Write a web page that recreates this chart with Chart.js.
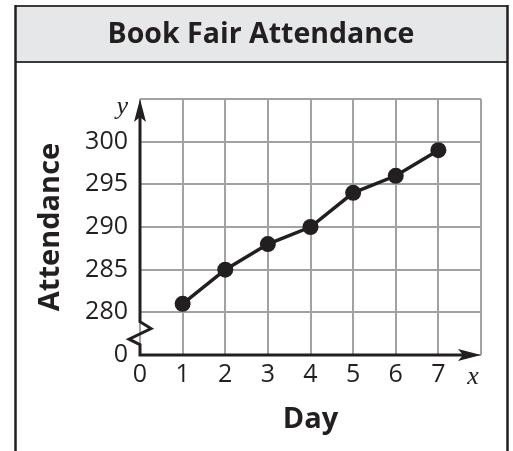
<!DOCTYPE html>
<html>
<head>
<meta charset="utf-8">
<title>Book Fair Attendance</title>
<script src="https://cdn.jsdelivr.net/npm/chart.js@4/dist/chart.umd.min.js"></script>
<style>
  html, body { margin: 0; padding: 0; background: #ffffff; }
  #wrap { position: relative; width: 513px; height: 451px; }
</style>
</head>
<body>
<div id="wrap"><canvas id="chart" width="513" height="451"></canvas></div>
<script>
// Attendance for each day of the book fair
const days = [1, 2, 3, 4, 5, 6, 7];
const attendance = [281, 285, 288, 290, 294, 296, 299];

// Axis ranges (the y axis is broken between 0 and 280)
const xRange = [0, 8];
const yRange = [275, 305];
const yBreakValue = 275;   // bottom gridline stands for 0
const yBreakZig = [278.9, 278.1, 276.85, 276.2];

const INK = '#231f20';
const GRID = '#a2a2a2';
const FONT = '"Open Sans", sans-serif';

// Frame and shaded heading band
const framePlugin = {
  id: 'frame',
  beforeDraw(chart) {
    const ctx = chart.ctx;
    ctx.save();
    ctx.fillStyle = '#ffffff';
    ctx.fillRect(0, 0, chart.width, chart.height);
    ctx.fillStyle = '#e6e7e8';
    ctx.fillRect(16, 6, 491, 56);
    ctx.strokeStyle = '#3a3a3a';
    ctx.lineWidth = 2;
    ctx.beginPath();
    ctx.moveTo(15, 6); ctx.lineTo(508, 6);
    ctx.moveTo(15, 62); ctx.lineTo(508, 62);
    ctx.stroke();
    ctx.strokeStyle = INK;
    ctx.lineWidth = 2.5;
    ctx.beginPath();
    ctx.moveTo(15.5, 5); ctx.lineTo(15.5, chart.height);
    ctx.moveTo(507.5, 5); ctx.lineTo(507.5, chart.height);
    ctx.stroke();
    ctx.restore();
  }
};

// Black axes with arrowheads and a zigzag break on the y axis
const axesPlugin = {
  id: 'arrowAxes',
  beforeDatasetsDraw(chart) {
    const {ctx, scales: {x, y}} = chart;
    const x0 = x.getPixelForValue(xRange[0]);
    const xEnd = x.getPixelForValue(xRange[1]);
    const yBottom = y.getPixelForValue(yRange[0]);
    const yTop = y.getPixelForValue(yRange[1]);
    const z = yBreakZig.map(v => y.getPixelForValue(v));
    ctx.save();
    ctx.strokeStyle = INK;
    ctx.fillStyle = INK;
    ctx.lineWidth = 3;
    ctx.lineJoin = 'miter';
    ctx.beginPath();
    ctx.moveTo(x0, yTop + 14);
    ctx.lineTo(x0, z[0]);
    ctx.lineTo(x0 + 11, z[1]);
    ctx.lineTo(x0 - 11, z[2]);
    ctx.lineTo(x0, z[3]);
    ctx.lineTo(x0, yBottom);
    ctx.lineTo(xEnd - 14, yBottom);
    ctx.stroke();
    // y arrowhead
    ctx.beginPath();
    ctx.moveTo(x0, yTop);
    ctx.lineTo(x0 + 6, yTop + 23);
    ctx.lineTo(x0, yTop + 18);
    ctx.lineTo(x0 - 6, yTop + 23);
    ctx.closePath();
    ctx.fill();
    // x arrowhead
    ctx.beginPath();
    ctx.moveTo(xEnd, yBottom);
    ctx.lineTo(xEnd - 23, yBottom - 6);
    ctx.lineTo(xEnd - 18, yBottom);
    ctx.lineTo(xEnd - 23, yBottom + 6);
    ctx.closePath();
    ctx.fill();
    ctx.restore();
  },
  afterDraw(chart) {
    const {ctx, scales: {x, y}} = chart;
    ctx.save();
    ctx.fillStyle = INK;
    ctx.font = 'italic 26px "Liberation Serif", "DejaVu Serif", serif';
    ctx.textAlign = 'right';
    ctx.textBaseline = 'alphabetic';
    ctx.fillText('y', x.getPixelForValue(xRange[0]) - 12, y.getPixelForValue(yRange[1]) + 15);
    ctx.textAlign = 'center';
    ctx.fillText('x', x.getPixelForValue(xRange[1]) - 8, y.getPixelForValue(yRange[0]) + 29);
    ctx.restore();
  }
};

const points = days.map((d, i) => ({x: d, y: attendance[i]}));

new Chart(document.getElementById('chart'), {
  type: 'scatter',
  data: {
    datasets: [{
      label: 'Attendance',
      data: points,
      showLine: true,
      borderColor: INK,
      borderWidth: 3.5,
      pointRadius: 8,
      pointHoverRadius: 8,
      pointBackgroundColor: INK,
      pointBorderColor: INK,
      pointBorderWidth: 0,
      tension: 0
    }]
  },
  options: {
    responsive: false,
    animation: false,
    events: [],
    layout: { padding: { left: 41, right: 32, top: 0, bottom: 0 } },
    plugins: {
      legend: { display: false },
      tooltip: { enabled: false },
      title: {
        display: true,
        text: 'Book Fair Attendance',
        color: INK,
        font: { family: FONT, size: 28.5, weight: 'bold', lineHeight: 1.2 },
        padding: { top: 17.9, bottom: 46.9 }
      }
    },
    scales: {
      x: {
        type: 'linear',
        min: xRange[0],
        max: xRange[1],
        afterFit(scale) { scale.height = 96; },
        grid: { color: GRID, lineWidth: 2, drawTicks: false },
        border: { display: false },
        ticks: {
          stepSize: 1,
          padding: 5,
          color: INK,
          font: { family: FONT, size: 25 },
          callback: v => (v === xRange[1] ? '' : String(v))
        },
        title: {
          display: true,
          text: 'Day',
          color: INK,
          font: { family: FONT, size: 29, weight: 'bold', lineHeight: 1.2 },
          padding: { top: 0, bottom: 13.6 }
        }
      },
      y: {
        type: 'linear',
        min: yRange[0],
        max: yRange[1],
        afterFit(scale) { scale.width = 99; },
        grid: { color: GRID, lineWidth: 2, drawTicks: false },
        border: { display: false },
        ticks: {
          stepSize: 5,
          padding: 12,
          color: INK,
          font: { family: FONT, size: 25 },
          callback: v => (v === yBreakValue ? '0' : (v === yRange[1] ? '' : String(v)))
        },
        title: {
          display: true,
          text: 'Attendance',
          color: INK,
          font: { family: FONT, size: 29, weight: 'bold', lineHeight: 1.2 },
          padding: { top: -7.4, bottom: 0 }
        }
      }
    }
  },
  plugins: [framePlugin, axesPlugin]
});
</script>
</body>
</html>
